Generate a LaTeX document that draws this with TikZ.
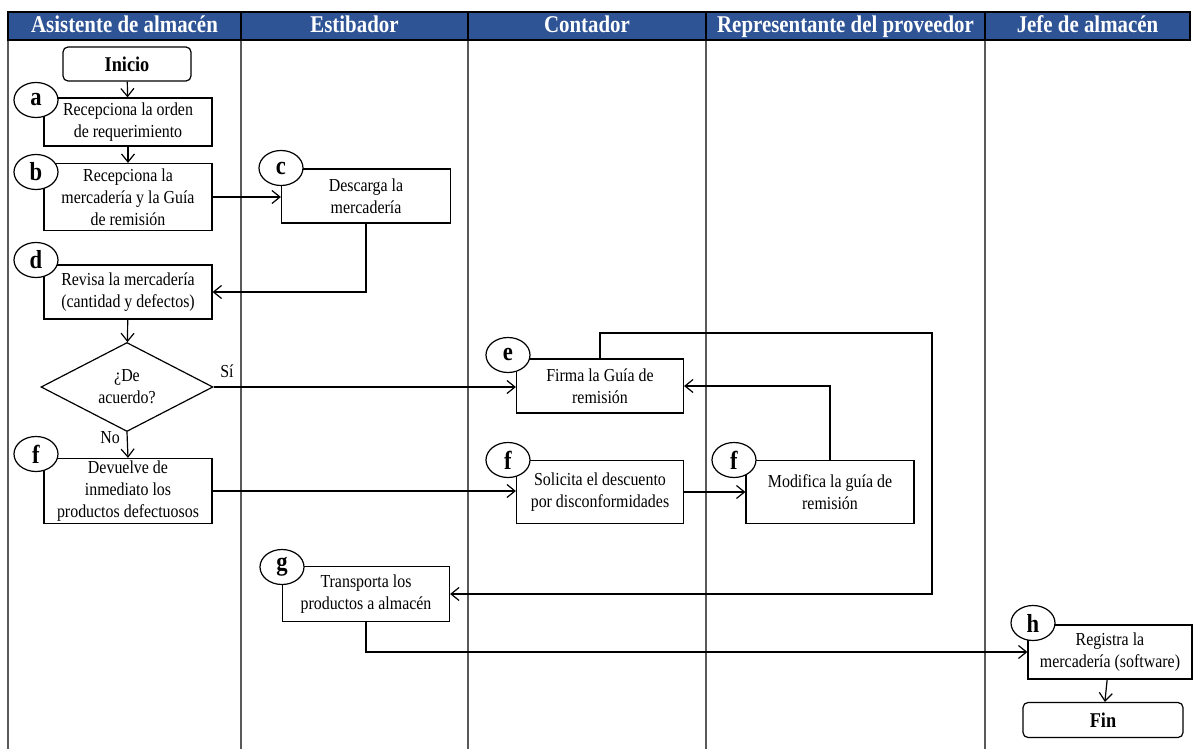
\documentclass[tikz,border=0pt]{standalone}
\usepackage{fontspec}
\setmainfont{Liberation Serif}[FakeStretch=0.87]
\usetikzlibrary{arrows.meta,shapes.geometric}
\definecolor{laneblue}{RGB}{47,84,150}

\begin{document}
\begin{tikzpicture}[x=1pt,y=-1pt,
  box/.style={draw,line width=1.2pt,fill=white,align=center,inner sep=0pt,
    font=\fontsize{18.3}{22}\selectfont},
  term/.style={box,rounded corners=5pt,font=\fontsize{21}{22}\selectfont\bfseries},
  decision/.style={draw,diamond,line width=1.2pt,fill=white,align=center,inner sep=0pt,
    aspect=1.93,minimum width=172pt,minimum height=89pt,font=\fontsize{18.3}{22}\selectfont},
  tag/.style={draw,ellipse,line width=1.2pt,fill=white,minimum width=44pt,
    minimum height=35pt,inner sep=0pt,font=\fontsize{26}{26}\selectfont\bfseries},
  lanehead/.style={anchor=base,font=\fontsize{24}{26}\selectfont\bfseries,text=white},
  laneline/.style={draw=black!65,line width=1.6pt},
  flow/.style={line width=1.2pt,-{Straight Barb[length=8pt,width=13pt,line width=1.2pt]}},
  lbl/.style={font=\fontsize{18.3}{22}\selectfont}
]
\useasboundingbox (0,0) rectangle (1197,749);

% swimlanes
\foreach \x in {8,241,468,706,985}
  \draw[laneline] (\x,40) -- (\x,749);
\fill[laneblue] (8,12) rectangle (1190,40);
\draw[line width=1.5pt] (8,12) rectangle (1190,40);
\foreach \x in {241,468,706,985}
  \draw[line width=1.5pt] (\x,12) -- (\x,40);
\node[lanehead] (L1) at (124.5,33) {Asistente de almacén};
\node[lanehead] (L2) at (354.5,33) {Estibador};
\node[lanehead] (L3) at (587,33) {Contador};
\node[lanehead] (L4) at (845.5,33) {Representante del proveedor};
\node[lanehead] (L5) at (1087.5,33) {Jefe de almacén};

% process steps
\node[term,minimum width=128pt,minimum height=34pt] (ini) at (127,64) {Inicio};
\node[box,minimum width=168pt,minimum height=48pt] (a) at (128,122) {Recepciona la orden\\de requerimiento};
\node[box,minimum width=168pt,minimum height=67pt] (b) at (128,197) {Recepciona la\\mercadería y la Guía\\de remisión};
\node[box,minimum width=169pt,minimum height=54pt] (c) at (366,196) {Descarga la\\mercadería};
\node[box,minimum width=168pt,minimum height=54pt] (d) at (128,292) {Revisa la mercadería\\(cantidad y defectos)};
\node[decision] (dec) at (127,387) {¿De\\acuerdo?};
\node[box,minimum width=167pt,minimum height=54pt] (e) at (600,386) {Firma la Guía de\\remisión};
\node[box,minimum width=168pt,minimum height=65pt] (f1) at (128,491) {Devuelve de\\inmediato los\\productos defectuosos};
\node[box,minimum width=167pt,minimum height=63pt] (f2) at (600,492) {Solicita el descuento\\por disconformidades};
\node[box,minimum width=168pt,minimum height=63pt] (f3) at (830,492) {Modifica la guía de\\remisión};
\node[box,minimum width=167pt,minimum height=55pt] (g) at (366,594) {Transporta los\\productos a almacén};
\node[box,minimum width=164pt,minimum height=54pt] (h) at (1110,652) {Registra la\\mercadería (software)};
\node[term,minimum width=160pt,minimum height=35pt] (fin) at (1103,720) {Fin};

% connectors
\draw[flow] (ini) -- (a);
\draw[flow] (a) -- (b);
\draw[flow] (b.east) -- (c.west |- b.east);
\draw[flow] (c.south) |- (d.east);
\draw[flow] (d) -- (dec);
\draw[flow] (dec.east) -- (e.west |- dec.east);
\draw[flow] (dec.south) -- (f1.north);
\draw[flow] (f1.east) -- (f2.west |- f1.east);
\draw[flow] (f2.east) -- (f3.west |- f2.east);
\draw[flow] (f3.north) |- (e.east);
\coordinate (loop) at (932,333);
\draw[flow] (e.north) |- (loop) |- (g.east);
\draw[flow] (g.south) |- (h.west);
\draw[flow] (h) -- (fin);

\node[lbl] (si) at (227,371) {Sí};
\node[lbl] (no) at (110,438) {No};

% step letters
\node[tag] (ta) at (36,100) {a};
\node[tag] (tb) at (36,172) {b};
\node[tag] (tc) at (281,168) {c};
\node[tag] (td) at (36,260) {d};
\node[tag] (tf1) at (36,454) {f};
\node[tag] (te) at (508,355) {e};
\node[tag] (tf2) at (508,460) {f};
\node[tag] (tf3) at (734,460) {f};
\node[tag] (tg) at (282,567) {g};
\node[tag] (th) at (1033,623) {h};
\end{tikzpicture}
\end{document}
